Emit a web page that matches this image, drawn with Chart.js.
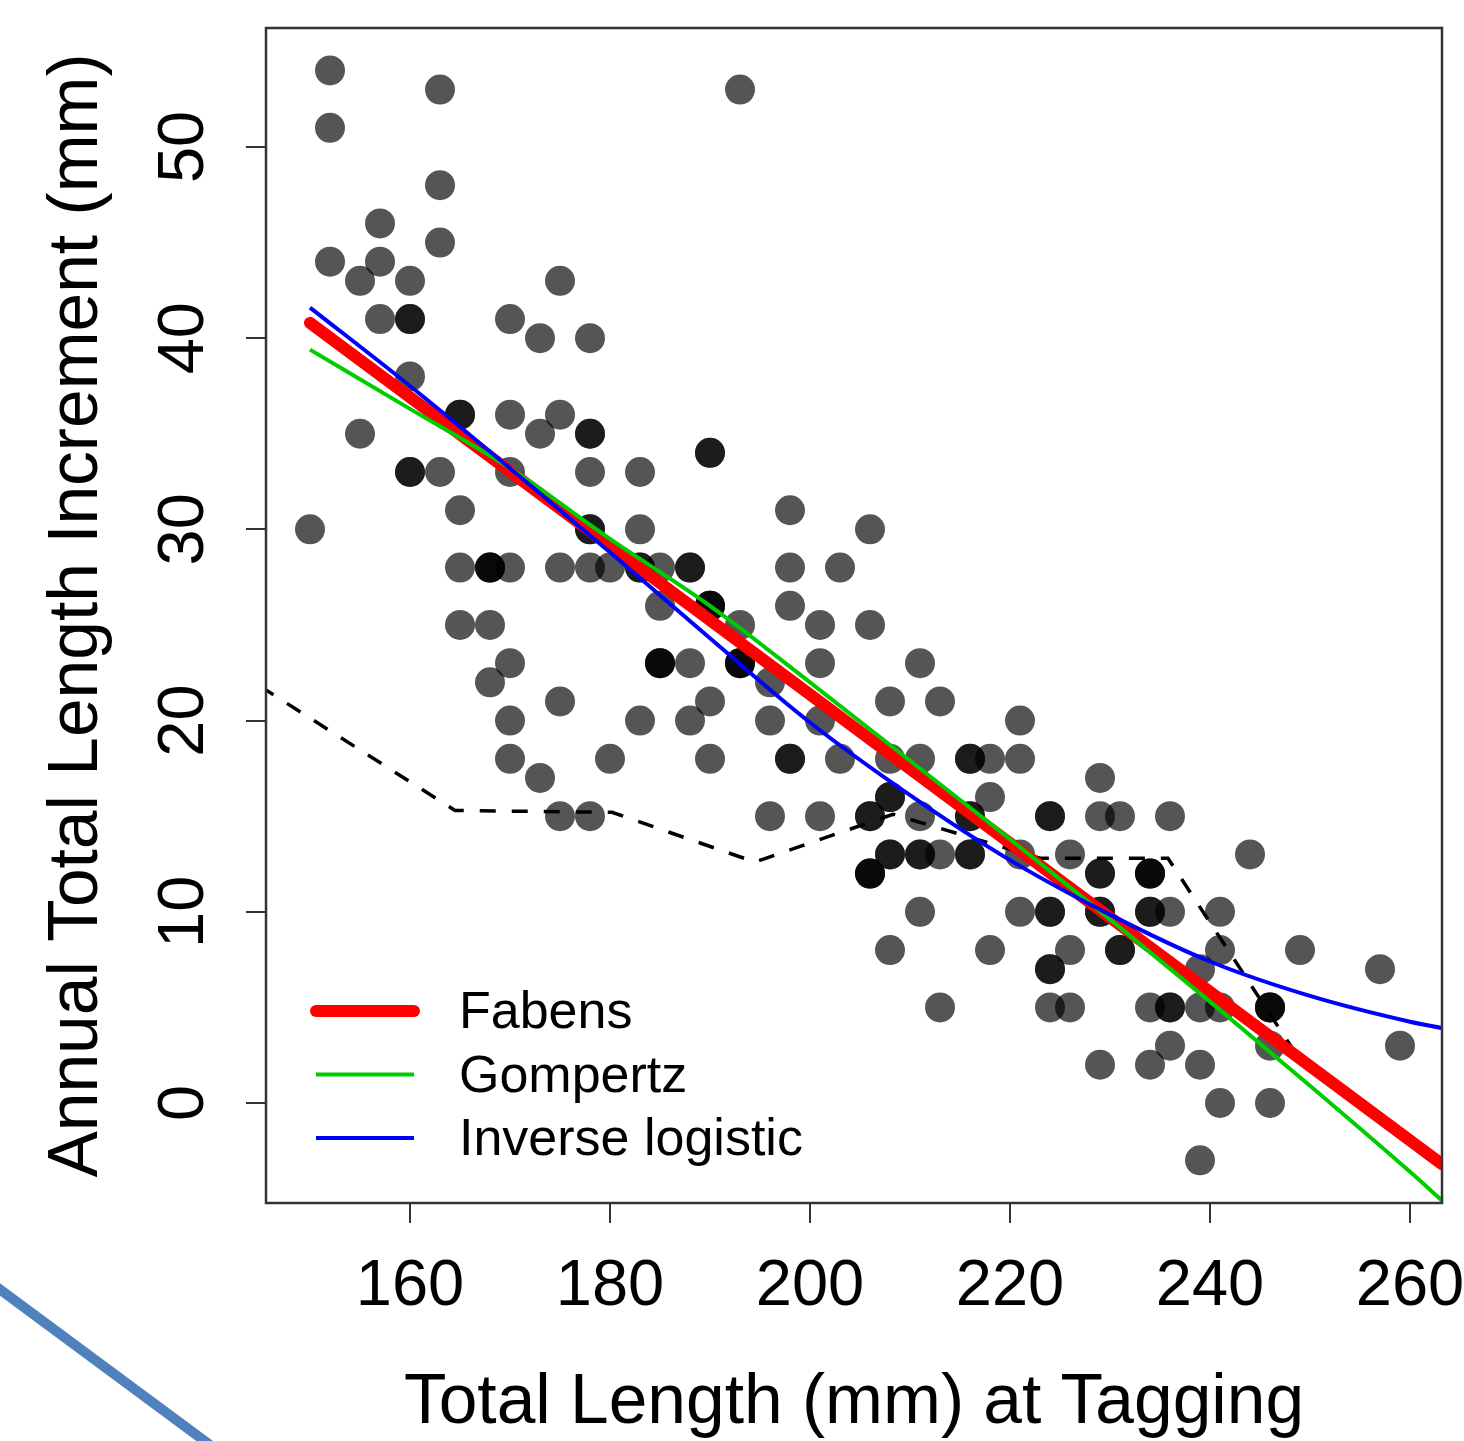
<!DOCTYPE html>
<html>
<head>
<meta charset="utf-8">
<script src="https://cdn.jsdelivr.net/npm/chart.js@4.4.1/dist/chart.umd.min.js"></script>
<style>
  body { margin: 0; background: #fff; }
  #wrap { position: relative; width: 1464px; height: 1441px; overflow: hidden; }
  #deco { position: absolute; left: 0; top: 0; pointer-events: none; }
</style>
</head>
<body>
<div id="wrap">
  <canvas id="growthChart" width="1464" height="1441"></canvas>
  <svg id="deco" width="1464" height="1441">
    <line x1="-10" y1="1282" x2="260" y2="1482" stroke="#4f81bd" stroke-width="10" />
  </svg>
</div>
<script>
// tagged fish: length at tagging vs annual increment (repeats = overlapping fish)
const tagLength = [
  150,
  152, 152, 152,
  155, 155,
  157, 157, 157,
  160, 160, 160, 160, 160, 160,
  163, 163, 163, 163,
  165, 165, 165, 165, 165,
  168, 168, 168, 168, 168,
  170, 170, 170, 170, 170, 170, 170,
  173, 173, 173,
  175, 175, 175, 175, 175,
  178, 178, 178, 178, 178, 178, 178, 178,
  180, 180,
  183, 183, 183, 183, 183,
  185, 185, 185, 185, 185,
  188, 188, 188, 188,
  190, 190, 190, 190, 190, 190, 190,
  193, 193, 193, 193, 193,
  196, 196, 196,
  198, 198, 198, 198, 198,
  201, 201, 201, 201,
  203, 203,
  206, 206, 206, 206, 206, 206, 206,
  208, 208, 208, 208, 208, 208, 208,
  211, 211, 211, 211, 211, 211,
  213, 213, 213,
  216, 216, 216, 216, 216, 216,
  218, 218, 218,
  221, 221, 221, 221,
  224, 224, 224, 224, 224, 224, 224,
  226, 226, 226,
  229, 229, 229, 229, 229, 229, 229,
  231, 231, 231,
  234, 234, 234, 234, 234, 234, 234,
  236, 236, 236, 236, 236,
  239, 239, 239, 239,
  241, 241, 241, 241,
  244,
  246, 246, 246, 246, 246,
  249,
  257,
  259,
];
const increment = [
  30,
  54, 51, 44,
  43, 35,
  46, 44, 41,
  43, 41, 41, 38, 33, 33,
  53, 48, 45, 33,
  36, 36, 31, 28, 25,
  28, 28, 28, 25, 22,
  41, 36, 33, 28, 23, 20, 18,
  40, 35, 17,
  43, 36, 28, 21, 15,
  40, 35, 35, 33, 30, 30, 28, 15,
  28, 18,
  33, 30, 28, 28, 20,
  28, 26, 23, 23, 23,
  28, 28, 23, 20,
  34, 34, 26, 26, 26, 21, 18,
  53, 25, 23, 23, 23,
  22, 20, 15,
  31, 28, 26, 18, 18,
  25, 23, 20, 15,
  28, 18,
  30, 25, 15, 15, 12, 12, 12,
  21, 18, 16, 16, 13, 13, 8,
  23, 18, 15, 13, 13, 10,
  21, 13, 5,
  18, 18, 15, 15, 13, 13,
  18, 16, 8,
  20, 18, 13, 10,
  15, 15, 10, 10, 7, 7, 5,
  13, 8, 5,
  17, 15, 12, 12, 10, 10, 2,
  15, 8, 8,
  12, 12, 12, 10, 10, 5, 2,
  15, 10, 5, 5, 3,
  7, 5, 2, -3,
  10, 8, 5, 0,
  13,
  5, 5, 5, 3, 0,
  8,
  7,
  3,
];

// fitted growth models
const fabensX = [150, 263.2];
const fabensY = [40.8, -3.2];
const curveX = [150, 160, 170, 180, 190, 200, 210, 220, 230, 240, 250, 260, 263.2];
const gompertzY = [39.4, 36.3, 33.2, 29.5, 26.0, 22.0, 17.9, 13.8, 9.6, 5.3, 0.9, -3.6, -5.1];
const inverseLogisticY = [41.6, 37.5, 33.2, 28.8, 24.3, 19.9, 16.1, 12.7, 9.85, 7.4, 5.6, 4.25, 3.92];

// dashed trend line
const trendX = [145, 164.5, 180.2, 194.5, 208.3, 223, 235.8, 248.8];
const trendY = [21.8, 15.3, 15.2, 12.6, 15.1, 12.8, 12.8, 2.4];

const xTicks = [160, 180, 200, 220, 240, 260];
const yTicks = [0, 10, 20, 30, 40, 50];
const legendNames = ["Fabens", "Gompertz", "Inverse logistic"];

const fontFamily = "'Liberation Sans', Arial, sans-serif";
const toPoints = (xs, ys) => xs.map((x, i) => ({ x: x, y: ys[i] }));

// box round the plot region, like R's box()
const frame = {
  id: "frame",
  afterDatasetsDraw(chart) {
    const { ctx, chartArea } = chart;
    ctx.save();
    ctx.strokeStyle = "#333";
    ctx.lineWidth = 2.5;
    ctx.strokeRect(
      chartArea.left,
      chartArea.top,
      chartArea.right - chartArea.left,
      chartArea.bottom - chartArea.top
    );
    ctx.restore();
  },
};

// legend in the bottom left corner of the plot
const legendBox = {
  id: "legendBox",
  afterDraw(chart) {
    const { ctx, chartArea } = chart;
    const items = chart.data.datasets.filter((d) => legendNames.includes(d.label));
    ctx.save();
    ctx.font = `52px ${fontFamily}`;
    ctx.textBaseline = "middle";
    items.forEach((d, i) => {
      const y = chartArea.bottom - 192 + i * 63.5;
      ctx.strokeStyle = d.borderColor;
      ctx.lineWidth = d.borderWidth;
      ctx.lineCap = i === 0 ? "round" : "butt";
      ctx.beginPath();
      ctx.moveTo(chartArea.left + 50, y);
      ctx.lineTo(chartArea.left + 148, y);
      ctx.stroke();
      ctx.fillStyle = "#000";
      ctx.fillText(d.label, chartArea.left + 193, y + 3);
    });
    ctx.restore();
  },
};

const axisGrid = {
  drawOnChartArea: false,
  drawTicks: true,
  tickLength: 20,
  color: "#333",
  lineWidth: 2,
};

// no extra room for overhanging tick labels
const noLabelPadding = (s) => {
  s.paddingTop = 0;
  s.paddingBottom = 0;
  s.paddingLeft = 0;
  s.paddingRight = 0;
};

const ctx = document.querySelector("#growthChart");

const growthChart = new Chart(ctx, {
  type: "scatter",
  data: {
    datasets: [
      {
        label: "Fabens",
        data: toPoints(fabensX, fabensY),
        showLine: true,
        borderColor: "#ff0000",
        borderWidth: 12,
        borderCapStyle: "round",
        pointRadius: 0,
        clip: 0,
        order: 3,
      },
      {
        label: "Gompertz",
        data: toPoints(curveX, gompertzY),
        showLine: true,
        borderColor: "#00cd00",
        borderWidth: 4,
        cubicInterpolationMode: "monotone",
        pointRadius: 0,
        clip: 0,
        order: 2,
      },
      {
        label: "Inverse logistic",
        data: toPoints(curveX, inverseLogisticY),
        showLine: true,
        borderColor: "#0000ff",
        borderWidth: 4,
        cubicInterpolationMode: "monotone",
        pointRadius: 0,
        clip: 0,
        order: 1,
      },
      {
        label: "trend",
        data: toPoints(trendX, trendY),
        showLine: true,
        borderColor: "#000",
        borderWidth: 3.5,
        borderDash: [16, 16],
        pointRadius: 0,
        clip: 0,
        order: 4,
      },
      {
        label: "fish",
        data: toPoints(tagLength, increment),
        backgroundColor: "rgba(0, 0, 0, 0.667)",
        borderWidth: 0,
        pointRadius: 15,
        pointHoverRadius: 15,
        order: 5,
      },
    ],
  },
  options: {
    responsive: false,
    animation: false,
    events: [],
    layout: { autoPadding: false, padding: { top: 28, right: 22, left: 0, bottom: 0 } },
    plugins: {
      legend: { display: false },
      tooltip: { enabled: false },
    },
    scales: {
      x: {
        type: "linear",
        min: 145.6,
        max: 263.2,
        afterBuildTicks: (s) => {
          s.ticks = xTicks.map((v) => ({ value: v }));
        },
        afterFit: (s) => {
          s.height = 238;
          noLabelPadding(s);
        },
        grid: axisGrid,
        border: { display: false },
        ticks: {
          padding: 25,
          color: "#000",
          maxRotation: 0,
          autoSkip: false,
          font: { size: 65, family: fontFamily },
        },
        title: {
          display: true,
          text: "Total Length (mm) at Tagging",
          color: "#000",
          font: { size: 69.5, family: fontFamily },
          padding: { top: 0, bottom: -5 },
        },
      },
      y: {
        type: "linear",
        min: -5.23,
        max: 56.22,
        afterBuildTicks: (s) => {
          s.ticks = yTicks.map((v) => ({ value: v }));
        },
        afterFit: (s) => {
          s.width = 266;
          noLabelPadding(s);
        },
        grid: axisGrid,
        border: { display: false },
        ticks: {
          padding: 25,
          color: "#000",
          minRotation: 90,
          maxRotation: 90,
          crossAlign: "center",
          autoSkip: false,
          font: { size: 65, family: fontFamily },
        },
        title: {
          display: true,
          text: "Annual Total Length Increment (mm)",
          color: "#000",
          font: { size: 69.5, family: fontFamily },
          padding: { top: 36, bottom: 0 },
        },
      },
    },
  },
  plugins: [frame, legendBox],
});
</script>
</body>
</html>
